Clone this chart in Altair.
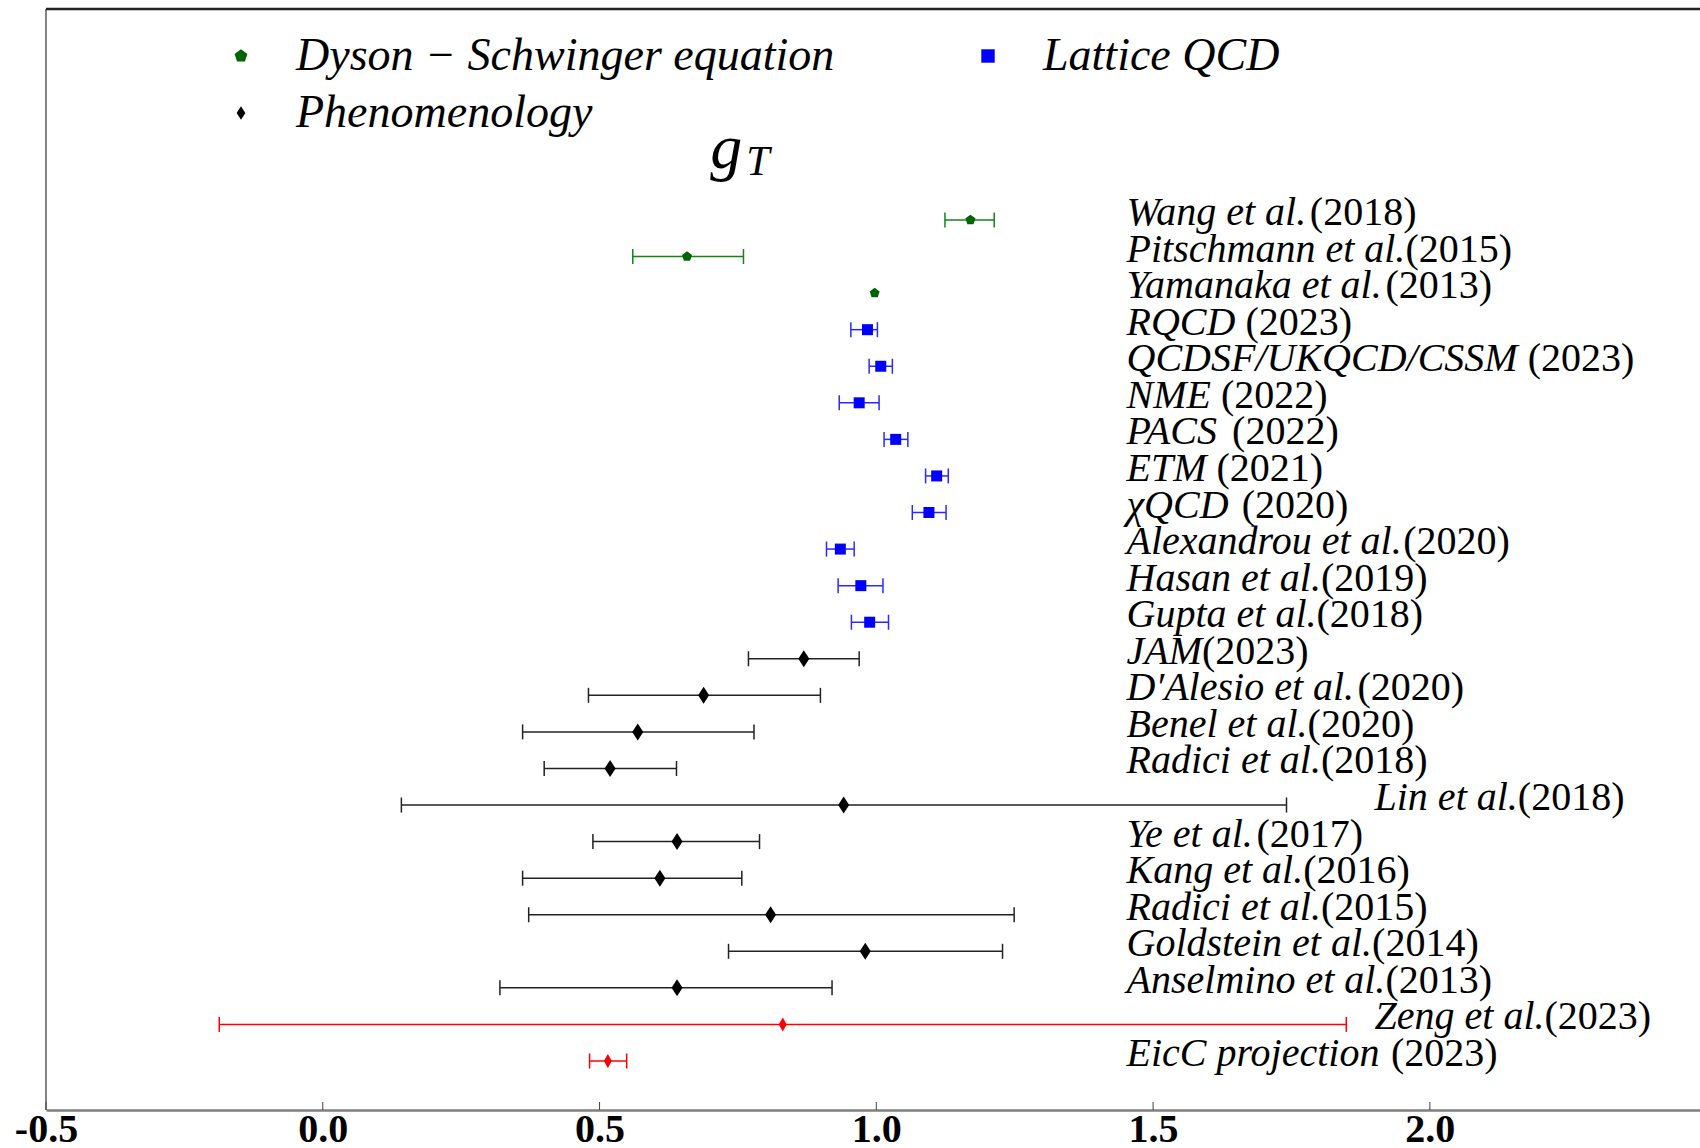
import altair as alt
import pandas as pd

# ---------------- data ----------------
names = ["Wang et al.", "Pitschmann et al.", "Yamanaka et al.", "RQCD ", "QCDSF/UKQCD/CSSM ",
         "NME ", "PACS ", "ETM ", "\u03c7QCD ", "Alexandrou et al.", "Hasan et al.", "Gupta et al.",
         "JAM", "D\u2032Alesio et al.", "Benel et al.", "Radici et al.", "Lin et al.", "Ye et al.",
         "Kang et al.", "Radici et al.", "Goldstein et al.", "Anselmino et al.", "Zeng et al.",
         "EicC projection "]
years = ["(2018)", "(2015)", "(2013)", "(2023)", "(2023)", "(2022)", "(2022)", "(2021)", "(2020)",
         "(2020)", "(2019)", "(2018)", "(2023)", "(2020)", "(2020)", "(2018)", "(2018)", "(2017)",
         "(2016)", "(2015)", "(2014)", "(2013)", "(2023)", "(2023)"]
DSE = "Dyson \u2212 Schwinger equation"
LAT = "Lattice QCD"
PHE = "Phenomenology"
PRO = "EicC"
groups = [DSE] * 3 + [LAT] * 9 + [PHE] * 10 + [PRO] * 2
values = [1.170, 0.658, 0.997, 0.984, 1.008, 0.969, 1.035, 1.109, 1.095, 0.935, 0.972, 0.988,
          0.869, 0.688, 0.569, 0.519, 0.941, 0.640, 0.609, 0.809, 0.980, 0.640, 0.831, 0.515]
err_lo = [1.124, 0.560, None, 0.954, 0.987, 0.933, 1.014, 1.089, 1.065, 0.910, 0.931, 0.955,
          0.769, 0.480, 0.361, 0.400, 0.142, 0.488, 0.361, 0.372, 0.733, 0.320, -0.187, 0.482]
err_hi = [1.213, 0.760, None, 1.002, 1.029, 1.005, 1.057, 1.130, 1.126, 0.960, 1.012, 1.022,
          0.969, 0.899, 0.779, 0.639, 1.741, 0.789, 0.757, 1.249, 1.228, 0.920, 1.849, 0.549]
# label anchor (data x) for each row's text
label_x = [1.452] * 24
label_x[16] = 1.90
label_x[22] = 1.90

tick_values = [-0.5, 0.0, 0.5, 1.0, 1.5, 2.0]
title_parts = ["g", "T"]
title_x = [0.700, 0.765]
title_y = [24.41, 24.23]
title_size = [64, 42]

# ---------------- layout ----------------
XMIN, XMAX = -0.5, 2.488
YMIN, YMAX = -1.34, 28.77
W, H = 1654, 1101
PXU = W / (XMAX - XMIN)
FONT = "Liberation Serif"
LABEL_FS = 40

ITALIC_W = dict(zip("abcdefghijklmnopqrstuvwxyz",
                    [500, 500, 444, 500, 444, 278, 500, 500, 278, 278, 444, 278, 722, 500, 500, 500,
                     500, 389, 389, 278, 500, 444, 667, 444, 444, 389]))
ITALIC_W.update(dict(zip("ABCDEFGHIJKLMNOPQRSTUVWXYZ",
                         [611, 611, 667, 722, 611, 611, 722, 722, 333, 444, 667, 556, 833, 667, 722,
                          611, 722, 611, 500, 556, 722, 611, 833, 611, 556, 556])))
ITALIC_W.update({" ": 250, ".": 250, "/": 278, "\u03c7": 520, "\u2032": 300})


def text_width(s):
    return sum(ITALIC_W.get(c, 500) for c in s) * LABEL_FS / 1000.0


n = len(names)
df = pd.DataFrame({
    "name": names,
    "year": years,
    "group": groups,
    "value": values,
    "lo": err_lo,
    "hi": err_hi,
    "y": [n - 1 - i for i in range(n)],
    "label_x": label_x,
})
df["year_x"] = [lx + text_width(nm) / PXU for lx, nm in zip(label_x, names)]

marker_color = {DSE: "#006400", LAT: "#0000ff", PHE: "#000000", PRO: "#ff0000"}
bar_color = {DSE: "#1a801a", LAT: "#2a2aff", PHE: "#222222", PRO: "#ff0000"}
marker_size = {DSE: 110, LAT: 121, PHE: 289, PRO: 196}
df["bar_color"] = [bar_color[g] for g in groups]
df["msize"] = [marker_size[g] for g in groups]

pentagon = "M0,-1L0.951,-0.309L0.588,0.809L-0.588,0.809L-0.951,-0.309Z"
diamond = "M0,-1L0.65,0L0,1L-0.65,0Z"
thin_diamond = "M0,-1L0.57,0L0,1L-0.57,0Z"
domain = [DSE, LAT, PHE, PRO]

x_scale = alt.Scale(domain=[XMIN, XMAX], nice=False, zero=False)
y_scale = alt.Scale(domain=[YMIN, YMAX], nice=False, zero=False)

x_axis = alt.Axis(
    values=tick_values,
    labelExpr="datum.value < 0 ? '-' + format(-datum.value, '.1f') : format(datum.value, '.1f')",
    labelFont=FONT, labelFontWeight="bold", labelFontSize=40, labelColor="black",
    labelFlush=False, labelOverlap=False,
    tickSize=0, labelPadding=-1, domainColor="#7f7f7f", domainWidth=2.5, grid=False, title=None,
)

legend = alt.Legend(
    values=[DSE, PHE, LAT], title=None, orient="none", legendX=172, legendY=24,
    columns=2, columnPadding=130, rowPadding=11, padding=0,
    labelFont=FONT, labelFontStyle="italic", labelFontSize=46, labelColor="black",
    labelLimit=2000, labelOffset=32, symbolSize=180, symbolStrokeWidth=0, symbolOpacity=1,
)

base = alt.Chart(df)

left_line = alt.Chart(pd.DataFrame({"x": [XMIN]})).mark_rule(color="#333333", strokeWidth=1.2).encode(
    x=alt.X("x:Q", scale=x_scale, axis=x_axis))
top_line = alt.Chart(pd.DataFrame({"y": [YMAX]})).mark_rule(color="#222222", strokeWidth=2.5).encode(
    y=alt.Y("y:Q", scale=y_scale, axis=None))

bars = base.transform_filter("isValid(datum.lo)").mark_rule(strokeWidth=1.5).encode(
    x=alt.X("lo:Q", scale=x_scale, axis=x_axis),
    x2="hi:Q",
    y=alt.Y("y:Q", scale=y_scale, axis=None),
    color=alt.Color("bar_color:N", scale=None),
)

caps = base.transform_filter("isValid(datum.lo)").transform_fold(
    ["lo", "hi"], as_=["end", "xe"]
).mark_tick(orient="vertical", size=15, thickness=1.5, opacity=1).encode(
    x=alt.X("xe:Q", scale=x_scale, axis=x_axis),
    y=alt.Y("y:Q", scale=y_scale, axis=None),
    color=alt.Color("bar_color:N", scale=None),
)

points = base.mark_point(filled=True, opacity=1, strokeWidth=0).encode(
    x=alt.X("value:Q", scale=x_scale, axis=x_axis),
    y=alt.Y("y:Q", scale=y_scale, axis=None),
    color=alt.Color("group:N", scale=alt.Scale(domain=domain, range=[marker_color[g] for g in domain]),
                    legend=legend),
    shape=alt.Shape("group:N", scale=alt.Scale(domain=domain, range=[pentagon, "square", diamond, thin_diamond]),
                    legend=legend),
    size=alt.Size("msize:Q", scale=None),
)

name_text = base.mark_text(align="left", baseline="alphabetic", dy=5, font=FONT, fontStyle="italic",
                           fontSize=LABEL_FS, color="black").encode(
    x=alt.X("label_x:Q", scale=x_scale, axis=x_axis),
    y=alt.Y("y:Q", scale=y_scale, axis=None),
    text="name:N",
)

year_text = base.mark_text(align="left", baseline="alphabetic", dy=5, font=FONT, fontStyle="normal",
                           fontSize=LABEL_FS, color="black").encode(
    x=alt.X("year_x:Q", scale=x_scale, axis=x_axis),
    y=alt.Y("y:Q", scale=y_scale, axis=None),
    text="year:N",
)

gt_df = pd.DataFrame({"t": title_parts, "x": title_x, "y": title_y, "fs": title_size})
gt_text = alt.Chart(gt_df).mark_text(align="left", baseline="alphabetic", font=FONT, fontStyle="italic",
                                     color="black").encode(
    x=alt.X("x:Q", scale=x_scale, axis=x_axis),
    y=alt.Y("y:Q", scale=y_scale, axis=None),
    text="t:N",
    size=alt.Size("fs:Q", scale=None),
)

inner_ticks = alt.Chart(pd.DataFrame({"t": tick_values})).mark_rule(color="#444444", strokeWidth=1).encode(
    x=alt.X("t:Q", scale=x_scale, axis=x_axis),
    y=alt.value(H),
    y2=alt.value(H - 8),
)

chart = alt.layer(
    left_line, top_line, bars, caps, points, name_text, year_text, gt_text, inner_ticks
).properties(
    width=W, height=H,
    autosize=alt.AutoSizeParams(type="none"),
    padding={"left": 46, "top": 9, "right": 0, "bottom": 38},
    background="white",
).configure_view(stroke=None)

chart.save("out.html", embed_options={"renderer": "svg", "actions": False})
